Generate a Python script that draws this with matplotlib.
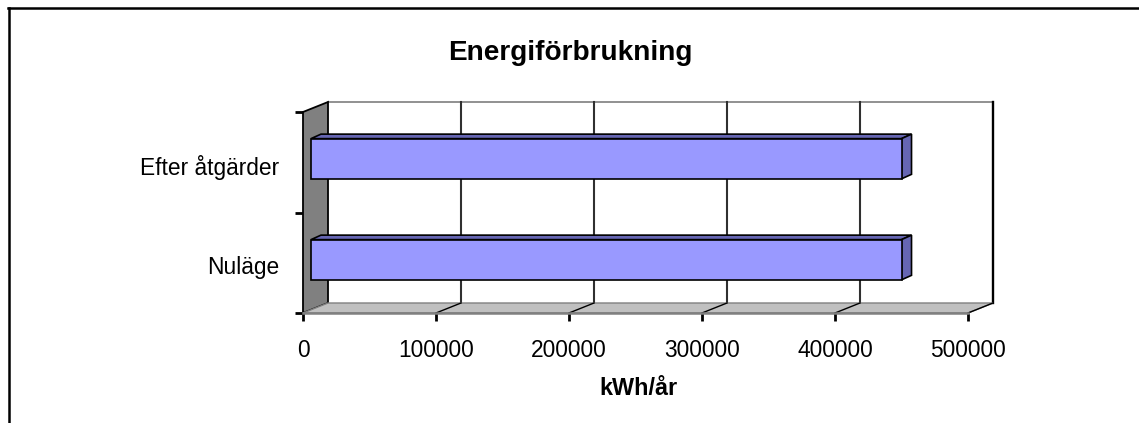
import matplotlib
matplotlib.use("Agg")
import matplotlib.pyplot as plt
from matplotlib.patches import Polygon

categories = ["Nuläge", "Efter åtgärder"]
values = [444000, 444000]
xticks = [0, 100000, 200000, 300000, 400000, 500000]

W, H = 1139, 423
xmax = 500000
# pseudo 3d depth, in data units
dx = 25 / 665 * xmax
dy = 10 / 201 * 2
bar_dx = 10 / 665 * xmax
bar_dy = 4.5 / 201 * 2
bar_start = 8 / 665 * xmax
bar_h = 0.4
bar_pos = [0.53, 1.535]

plt.rcParams["font.family"] = ["Liberation Sans", "DejaVu Sans"]
fig = plt.figure(figsize=(W / 100, H / 100), dpi=100)
ax = fig.add_axes([303 / W, 1 - 313 / H, 665 / W, 201 / H])
ax.set_xlim(0, xmax)
ax.set_ylim(0, 2)
for s in ax.spines.values():
    s.set_visible(False)
ax.patch.set_visible(False)


def poly(pts, fc, ec="black", lw=1.0, z=2):
    ax.add_patch(Polygon(pts, closed=True, fc=fc, ec=ec, lw=lw, zorder=z, clip_on=False))


# walls
poly([(0, 0), (dx, dy), (dx, 2 + dy), (0, 2)], "#808080", lw=1.3)
poly([(0, 0), (xmax, 0), (xmax + dx, dy), (dx, dy)], "#c0c0c0", ec="#808080", lw=1.0)
ax.plot([dx, xmax + dx], [2 + dy, 2 + dy], color="#909090", lw=1.4, zorder=1, clip_on=False)
ax.plot([xmax + dx, xmax + dx], [dy, 2 + dy], color="black", lw=1.7, zorder=1, clip_on=False)

# gridlines on back wall and floor
for t in xticks[1:-1]:
    ax.plot([t + dx, t + dx], [dy, 2 + dy], color="#303030", lw=1.5, zorder=1, clip_on=False)
for t in xticks[1:]:
    ax.plot([t, t + dx], [0, dy], color="black", lw=1.0, zorder=2.5, clip_on=False)
ax.plot([0, xmax], [0, 0], color="#808080", lw=1.8, zorder=3, clip_on=False)

# bars
for y, v in zip(bar_pos, values):
    ax.barh(y, v, left=bar_start, height=bar_h, color="#9999ff", edgecolor="black", lw=1.2, zorder=4)
    x1 = bar_start + v
    top = y + bar_h / 2
    bot = y - bar_h / 2
    poly([(bar_start, top), (x1, top), (x1 + bar_dx, top + bar_dy), (bar_start + bar_dx, top + bar_dy)],
         "#6666b3", lw=1.2, z=3.5)
    poly([(x1, bot), (x1 + bar_dx, bot + bar_dy), (x1 + bar_dx, top + bar_dy), (x1, top)],
         "#6666b3", lw=1.2, z=3.5)

ax.set_xticks(xticks)
ax.set_xticklabels([str(t) for t in xticks], fontsize=16.4)
ax.set_yticks([0, 1, 2])
ax.set_yticklabels([])
ax.tick_params(axis="both", length=6, width=2, color="black")
ax.tick_params(axis="x", pad=12.5)
for y, c in zip([0.5, 1.5], categories):
    ax.annotate(c, (0, y), xytext=(-24, -5), textcoords="offset pixels", ha="right", va="center", fontsize=16.4)

fig.text(638 / W, 1 - 388 / H, "kWh/år", ha="center", va="center", fontsize=16.8, fontweight="bold")
fig.text(570 / W, 1 - 53 / H, "Energiförbrukning", ha="center", va="center", fontsize=20.2, fontweight="bold")

# chart frame, cut off at the right and bottom of the picture
fig.add_artist(plt.Line2D([8.5 / W, 8.5 / W], [0, 1 - 8.5 / H], color="black", lw=1.8))
fig.add_artist(plt.Line2D([8 / W, 1], [1 - 8.5 / H, 1 - 8.5 / H], color="black", lw=1.8))

fig.savefig("out.png", dpi=100)
